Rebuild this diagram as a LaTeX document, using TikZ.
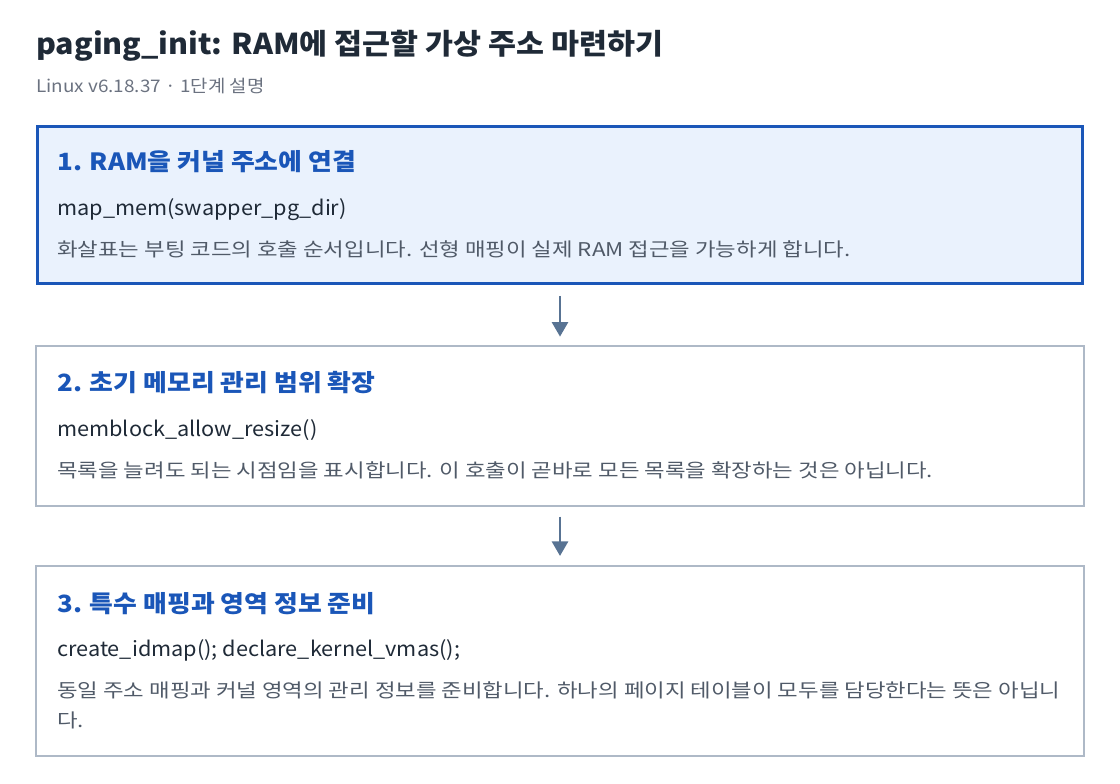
\documentclass[tikz,border=0pt]{standalone}
\usepackage{fontspec}
\setmainfont{Noto Sans CJK KR}
\newfontfamily\titlefont{Noto Sans CJK KR}[FakeStretch=1.06]
\newfontfamily\subfont{Noto Sans CJK KR}[FakeStretch=1.09]
\newfontfamily\headfont{Noto Sans CJK KR}[FakeStretch=1.09]
\newfontfamily\codefont{Noto Sans CJK KR}[FakeStretch=1.05]
\newfontfamily\descfont{Noto Sans CJK KR}[FakeStretch=1.18]
\usetikzlibrary{arrows.meta}
\definecolor{titlec}{HTML}{1F2A37}
\definecolor{subc}{HTML}{6B7280}
\definecolor{headc}{HTML}{1A56B8}
\definecolor{codec}{HTML}{1F2A37}
\definecolor{descc}{HTML}{505A68}
\definecolor{hlfill}{HTML}{EAF2FD}
\definecolor{boxline}{HTML}{AEB9C7}
\definecolor{arrowc}{HTML}{587393}
\tikzset{
  stepbox/.style={draw=boxline, line width=1pt, fill=white, rectangle, minimum width=786pt, inner sep=0pt},
  hlbox/.style={draw=headc, line width=2.25pt, fill=hlfill, rectangle, minimum width=784pt, inner sep=0pt},
  titletext/.style={anchor=base west, inner sep=0pt, text=titlec, font=\titlefont\fontsize{21.5}{26}\selectfont\bfseries},
  subtext/.style={anchor=base west, inner sep=0pt, text=subc, font=\subfont\fontsize{13}{16}\selectfont},
  headtext/.style={anchor=base west, inner sep=0pt, text=headc, font=\headfont\fontsize{17.8}{21}\selectfont\bfseries},
  codetext/.style={anchor=base west, inner sep=0pt, text=codec, font=\codefont\fontsize{15.5}{19}\selectfont},
  desctext/.style={anchor=base west, inner sep=0pt, text=descc, font=\descfont\fontsize{14.2}{17}\selectfont},
  flow/.style={draw=arrowc, line width=2.2pt, -{Triangle[width=12pt,length=11pt]}},
}
\begin{document}
\begin{tikzpicture}[x=0.75pt,y=-0.75pt]
\useasboundingbox (0,0) rectangle (1120,784);
\node[titletext] (title) at (36,55) {paging\_init: RAM에 접근할 가상 주소 마련하기};
\node[subtext] (sub) at (36,93) {Linux v6.18.37 · 1단계 설명};

\node[hlbox, minimum height=118pt] (b1) at (560,205) {};
\node[headtext] (h1) at (57,171) {1. RAM을 커널 주소에 연결};
\node[codetext] (c1) at (57,216) {map\_mem(swapper\_pg\_dir)};
\node[desctext] (d1) at (57,257) {화살표는 부팅 코드의 호출 순서입니다. 선형 매핑이 실제 RAM 접근을 가능하게 합니다.};

\node[stepbox, minimum height=120pt] (b2) at (560,426) {};
\node[headtext] (h2) at (57,391) {2. 초기 메모리 관리 범위 확장};
\node[codetext] (c2) at (57,436) {memblock\_allow\_resize()};
\node[desctext] (d2) at (57,477) {목록을 늘려도 되는 시점임을 표시합니다. 이 호출이 곧바로 모든 목록을 확장하는 것은 아닙니다.};

\node[stepbox, minimum height=142.5pt] (b3) at (560,661) {};
\node[headtext] (h3) at (57,612) {3. 특수 매핑과 영역 정보 준비};
\node[codetext] (c3) at (57,656) {create\_idmap(); declare\_kernel\_vmas();};
\node[desctext] (d3a) at (57,697) {동일 주소 매핑과 커널 영역의 관리 정보를 준비합니다. 하나의 페이지 테이블이 모두를 담당한다는 뜻은 아닙니};
\node[desctext] (d3b) at (57,727) {다.};

\draw[flow, shorten <=8pt, shorten >=6.5pt] (b1.south) -- (b2.north);
\draw[flow, shorten <=7.5pt, shorten >=7pt] (b2.south) -- (b3.north);
\end{tikzpicture}
\end{document}
